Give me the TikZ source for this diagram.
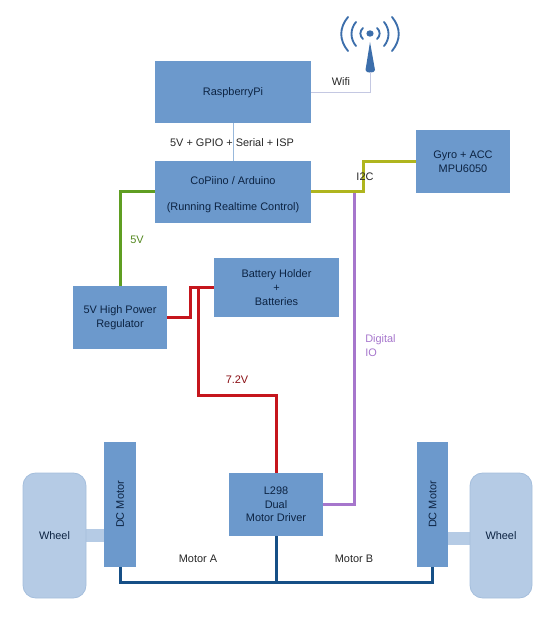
\documentclass[tikz,border=0pt]{standalone}
\usepackage{fontspec}
\setmainfont{Liberation Sans}
\definecolor{boxfill}{HTML}{6C99CC}
\definecolor{boxtext}{HTML}{0C2342}
\definecolor{wheelfill}{HTML}{B5CBE5}
\definecolor{wheeledge}{HTML}{A4BEDC}
\definecolor{antblue}{HTML}{3C6EAB}
\definecolor{linegreen}{HTML}{5F9E22}
\definecolor{lineolive}{HTML}{AFB51E}
\definecolor{linepurple}{HTML}{A676CC}
\definecolor{linered}{HTML}{C5161D}
\definecolor{lineblue}{HTML}{164F86}
\definecolor{linepale}{HTML}{C4C8E2}
\tikzset{
  x=0.75pt,y=-0.75pt,
  font=\fontsize{8.2pt}{10.2pt}\selectfont,
  block/.style={rectangle,fill=boxfill,text=boxtext,inner sep=0pt,outer sep=0pt,align=center},
  wheelbox/.style={rectangle,rounded corners=9.5pt,fill=wheelfill,draw=wheeledge,line width=0.6pt,text=boxtext,inner sep=0pt,outer sep=0pt,align=center},
  axle/.style={rectangle,fill=wheelfill,inner sep=0pt,outer sep=0pt},
  wire/.style={line width=2.25pt,line join=miter},
  thinwire/.style={line width=0.75pt,color=linepale},
  lab/.style={text=#1,inner sep=0pt,align=left},
  lab/.default=black!85,
  wave/.style={draw=antblue,line width=1.4pt,line cap=round},
}
\begin{document}
\begin{tikzpicture}
\useasboundingbox (0,0) rectangle (549,620);
% axles first
\node[axle,minimum width=18*0.75pt,minimum height=13*0.75pt] (axleL) at (95,535.5) {};
\node[axle,minimum width=22*0.75pt,minimum height=13*0.75pt] (axleR) at (459,538.5) {};
% blocks
\node[block,minimum width=156*0.75pt,minimum height=62*0.75pt] (pi) at (233,92.5) {RaspberryPi};
\node[block,minimum width=156*0.75pt,minimum height=62*0.75pt] (cop) at (233,192) {\rule{0pt}{10pt}CoPiino / Arduino\\[9pt](Running Realtime Control)};
\node[block,minimum width=94*0.75pt,minimum height=63*0.75pt] (gyro) at (463,161.5) {Gyro + ACC\\MPU6050};
\node[block,minimum width=125*0.75pt,minimum height=59*0.75pt] (bat) at (276.5,287.5) {Battery Holder\\+\\Batteries};
\node[block,minimum width=94*0.75pt,minimum height=63*0.75pt] (reg) at (120,317.5) {5V High Power\\Regulator};
\node[block,minimum width=94*0.75pt,minimum height=63*0.75pt] (drv) at (276,504.5) {L298\\Dual\\Motor Driver};
\node[block,minimum width=32*0.75pt,minimum height=125*0.75pt] (mL) at (120,504.5) {\rotatebox{90}{DC Motor}};
\node[block,minimum width=31*0.75pt,minimum height=125*0.75pt] (mR) at (432.5,504.5) {\rotatebox{90}{DC Motor}};
\node[wheelbox,minimum width=63*0.75pt,minimum height=125*0.75pt] (wL) at (54.5,535.5) {Wheel};
\node[wheelbox,minimum width=62*0.75pt,minimum height=125*0.75pt] (wR) at (501,535.5) {Wheel};
% antenna
\coordinate (ant) at (370,72);
\fill[antblue] (370,42) -- (375,70) .. controls (375,73.5) and (365.5,73.5) .. (365.5,70) -- cycle;
\fill[antblue] (370,33.5) ellipse [x radius=3.6,y radius=3.2];
\draw[wave] (363,28) .. controls (359.5,31) and (359.5,36) .. (363,39);
\draw[wave] (377,28) .. controls (380.5,31) and (380.5,36) .. (377,39);
\draw[wave] (356,22) .. controls (350,29) and (350,39) .. (356,46);
\draw[wave] (384,22) .. controls (390,29) and (390,39) .. (384,46);
\draw[wave] (348,17) .. controls (339,28) and (339,40) .. (348,51);
\draw[wave] (392,17) .. controls (401,28) and (401,40) .. (392,51);
% connectors
\draw[thinwire] (pi.east) -| (ant);
\draw[thinwire,color=boxfill!70!white] (pi.south) -- (cop.north);
\draw[wire,linepurple] (354,192) coordinate (tap) -- (tap |- drv.east) -- (drv.east);
\draw[wire,lineolive] (cop.east) -- (363.5,192) -- (363.5,161.5) -- (gyro.west);
\draw[wire,linegreen] (cop.west) -| (reg.north);
\draw[wire,linered] (reg.east) -- (190.7,317.5) -- (190.7,287.5) -- (bat.west);
\draw[wire,linered] (198,287.5) coordinate (split) -- (198,395) -| (drv.north);
\draw[wire,lineblue] (drv.south) -- (276,582) coordinate (bus);
\draw[wire,lineblue] (mL.south) |- (bus) -| (mR.south);
% labels
\node[lab] (lwifi) at (341,82) {Wifi};
\node[lab] (lbus) at (232,143) {5V + GPIO + Serial + ISP};
\node[lab] (li2c) at (365,176.5) {I2C};
\node[lab=linegreen!85!black] (l5v) at (137,239.5) {5V};
\node[lab=linered!70!black] (l72) at (237,380) {7.2V};
\node[lab=linepurple,anchor=west] (ldig) at (365,345.5) {Digital\\IO};
\node[lab] (lma) at (198,559) {Motor A};
\node[lab] (lmb) at (354,559) {Motor B};
\end{tikzpicture}
\end{document}
